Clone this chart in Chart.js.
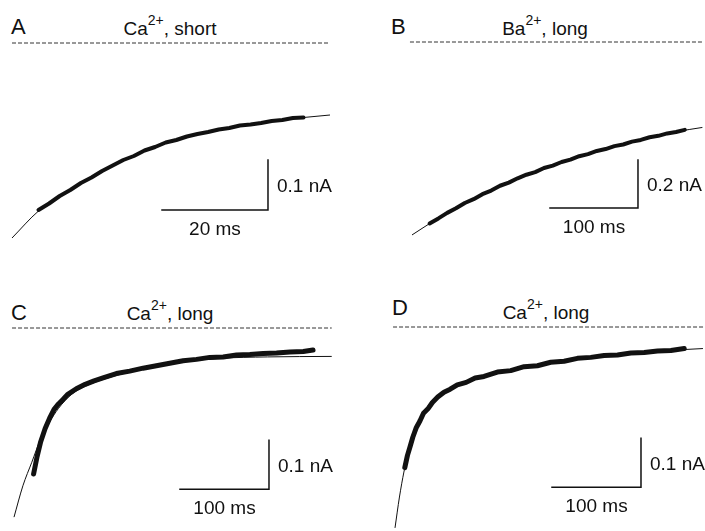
<!DOCTYPE html>
<html>
<head>
<meta charset="utf-8">
<script src="https://cdn.jsdelivr.net/npm/chart.js@4"></script>
<style>
    html, body { margin: 0; padding: 0; background: #fff; }
    #wrap { position: relative; width: 705px; height: 531px; overflow: hidden; font-family: "Liberation Sans", Arial, Helvetica, sans-serif; color: #111; }
    canvas { position: absolute; }
    .letter { position: absolute; font-size: 22px; line-height: 22px; }
    .title { position: absolute; width: 200px; text-align: center; font-size: 19px; line-height: 19px; white-space: nowrap; }
    .title sup { font-size: 14px; line-height: 0; position: relative; top: -3px; }
</style>
</head>
<body>
<div id="wrap">
    <div class="letter" style="left:11px; top:16px;">A</div>
    <div class="title" style="left:70px; top:19px;">Ca<sup>2+</sup>, short</div>
    <div class="letter" style="left:391px; top:16px;">B</div>
    <div class="title" style="left:445px; top:19px;">Ba<sup>2+</sup>, long</div>
    <div class="letter" style="left:11px; top:302px;">C</div>
    <div class="title" style="left:70px; top:304px;">Ca<sup>2+</sup>, long</div>
    <div class="letter" style="left:392px; top:297px;">D</div>
    <div class="title" style="left:446px; top:303px;">Ca<sup>2+</sup>, long</div>
</div>
<script>
// time in ms, current in nA (baseline = 0)

// A: Ca2+, short
const fitTimeA = [0, 5, 10, 15, 20, 25, 30, 35, 40, 45, 50, 55, 60];
const fitCurrentA = [-0.390, -0.336, -0.300, -0.268, -0.240, -0.216, -0.197, -0.183, -0.172, -0.163, -0.155, -0.149, -0.144];
const traceTimeA = [5, 7, 9, 11, 13, 15, 17, 19, 21, 23, 25, 27, 29, 31, 33, 35, 37, 39, 41, 43, 45, 47, 49, 51, 53, 55];
const traceCurrentA = [-0.334, -0.321, -0.306, -0.294, -0.280, -0.269, -0.256, -0.245, -0.234, -0.226, -0.215, -0.208, -0.199, -0.194,
    -0.187, -0.182, -0.178, -0.173, -0.170, -0.165, -0.163, -0.160, -0.156, -0.154, -0.150, -0.149];
const baseTimeA = [0, 60];

// B: Ba2+, long
const fitTimeB = [0, 25, 50, 75, 100, 125, 150, 175, 200, 225, 250, 275, 300, 330];
const fitCurrentB = [-0.804, -0.745, -0.692, -0.645, -0.601, -0.562, -0.527, -0.495, -0.466, -0.440, -0.416, -0.394, -0.374, -0.356];
const traceTimeB = [20, 30, 40, 50, 60, 70, 80, 90, 100, 110, 120, 130, 140, 150, 160, 170, 180, 190, 200, 210, 220, 230, 240, 250, 260, 270, 280, 290, 300, 310];
const traceCurrentB = [-0.756, -0.735, -0.712, -0.693, -0.671, -0.655, -0.634, -0.619, -0.599, -0.586, -0.568, -0.553, -0.542, -0.525,
    -0.515, -0.500, -0.490, -0.476, -0.467, -0.454, -0.446, -0.434, -0.427, -0.415, -0.408, -0.397, -0.391, -0.381, -0.375, -0.366];
const baseTimeB = [-2.3, 329.5];

// C: Ca2+, long
const fitTimeC = [0, 10, 20, 30, 40, 50, 65, 80, 100, 125, 150, 190, 230, 285, 357];
const fitCurrentC = [-0.386, -0.322, -0.274, -0.226, -0.192, -0.164, -0.135, -0.119, -0.105, -0.092, -0.081, -0.069, -0.062, -0.059, -0.058];
const traceTimeC = [22, 26, 30, 35, 40, 45, 50, 55, 60, 70, 80, 90, 100, 115, 130, 145, 160, 175, 190, 205, 220, 235, 250, 265, 280, 295, 310, 325, 336];
const traceCurrentC = [-0.298, -0.262, -0.232, -0.205, -0.184, -0.166, -0.155, -0.146, -0.136, -0.124, -0.115, -0.108, -0.102, -0.093,
    -0.088, -0.082, -0.077, -0.072, -0.067, -0.064, -0.060, -0.059, -0.055, -0.054, -0.052, -0.051, -0.049, -0.048, -0.045];
const baseTimeC = [-2.2, 357];

// D: Ca2+, long
const fitTimeD = [0, 5, 10, 15, 20, 30, 40, 50, 60, 75, 90, 110, 130, 165, 210, 250, 290, 325, 346];
const fitCurrentD = [-0.410, -0.347, -0.296, -0.257, -0.226, -0.180, -0.155, -0.138, -0.126, -0.114, -0.105, -0.095, -0.088, -0.076,
    -0.064, -0.056, -0.050, -0.046, -0.044];
const traceTimeD = [11, 14, 17, 20, 24, 28, 32, 37, 42, 48, 55, 62, 70, 80, 90, 100, 115, 130, 145, 160, 175, 190, 205, 220, 235, 250, 265, 280, 295, 310, 325];
const traceCurrentD = [-0.287, -0.262, -0.244, -0.225, -0.205, -0.192, -0.176, -0.167, -0.154, -0.143, -0.133, -0.127, -0.118, -0.113,
    -0.104, -0.101, -0.092, -0.089, -0.081, -0.079, -0.072, -0.070, -0.064, -0.062, -0.058, -0.057, -0.053, -0.052, -0.049, -0.048, -0.044];
const baseTimeD = [-2.2, 348];

// scale bars: [ms, nA]
const barSizeA = [20, 0.1];
const barSizeB = [100, 0.2];
const barSizeC = [100, 0.1];
const barSizeD = [100, 0.1];

const fontFam = '"Liberation Sans", Arial, Helvetica, sans-serif';
const ink = "#111";

const panels = [
    { box: [0, 0, 352, 265], origin: [12, 43], pxPer: [5.3, 500], fitT: fitTimeA, fitI: fitCurrentA, trT: traceTimeA, trI: traceCurrentA,
      base: baseTimeA, bar: barSizeA, corner: [48.3, -0.334], width: 4 },
    { box: [352, 0, 353, 265], origin: [412, 42], pxPer: [0.88, 240], fitT: fitTimeB, fitI: fitCurrentB, trT: traceTimeB, trI: traceCurrentB,
      base: baseTimeB, bar: barSizeB, corner: [256.8, -0.692], width: 4 },
    { box: [0, 265, 352, 266], origin: [14, 328], pxPer: [0.89, 490], fitT: fitTimeC, fitI: fitCurrentC, trT: traceTimeC, trI: traceCurrentC,
      base: baseTimeC, bar: barSizeC, corner: [286.5, -0.329], width: 5 },
    { box: [352, 265, 353, 266], origin: [395, 327], pxPer: [0.89, 490], fitT: fitTimeD, fitI: fitCurrentD, trT: traceTimeD, trI: traceCurrentD,
      base: baseTimeD, bar: barSizeD, corner: [276.4, -0.327], width: 5 }
];

function pts(xs, ys) {
    return xs.map((x, i) => ({ x: x, y: ys[i] }));
}

// draws "20 ms" / "0.1 nA" next to the scale bar
const barLabels = {
    id: "barLabels",
    afterDatasetsDraw(chart, args, opts) {
        const ctx = chart.ctx;
        const xs = chart.scales.x, ys = chart.scales.y;
        const cx = xs.getPixelForValue(opts.corner[0]);
        const cy = ys.getPixelForValue(opts.corner[1]);
        const left = xs.getPixelForValue(opts.corner[0] - opts.size[0]);
        const top = ys.getPixelForValue(opts.corner[1] + opts.size[1]);
        ctx.save();
        ctx.fillStyle = ink;
        ctx.font = "19px " + fontFam;
        ctx.textBaseline = "alphabetic";
        ctx.textAlign = "left";
        ctx.fillText(opts.size[1] + " nA", cx + 9, (cy + top) / 2 + 7);
        ctx.textAlign = "center";
        ctx.fillText(opts.size[0] + " ms", (cx + left) / 2, cy + 25);
        ctx.restore();
    }
};

const wrap = document.getElementById("wrap");

panels.forEach(p => {
    const cv = document.createElement("canvas");
    cv.width = p.box[2];
    cv.height = p.box[3];
    cv.style.left = p.box[0] + "px";
    cv.style.top = p.box[1] + "px";
    wrap.appendChild(cv);

    const xMin = (p.box[0] - p.origin[0]) / p.pxPer[0];
    const xMax = (p.box[0] + p.box[2] - p.origin[0]) / p.pxPer[0];
    const yMax = (p.origin[1] - p.box[1]) / p.pxPer[1];
    const yMin = (p.origin[1] - p.box[1] - p.box[3]) / p.pxPer[1];

    const c = p.corner;
    new Chart(cv, {
        type: "line",
        data: {
            datasets: [
                {
                    data: pts(p.base, [0, 0]),
                    borderColor: "#333",
                    borderWidth: 1,
                    borderDash: [4, 2],
                    order: 4
                },
                {
                    data: pts(p.trT, p.trI),
                    borderColor: ink,
                    borderWidth: p.width,
                    borderCapStyle: "round",
                    borderJoinStyle: "round",
                    tension: 0,
                    order: 3
                },
                {
                    data: pts(p.fitT, p.fitI),
                    borderColor: ink,
                    borderWidth: 1,
                    cubicInterpolationMode: "monotone",
                    order: 2
                },
                {
                    data: pts([c[0] - p.bar[0], c[0], c[0]], [c[1], c[1], c[1] + p.bar[1]]),
                    borderColor: ink,
                    borderWidth: 1.5,
                    borderCapStyle: "square",
                    tension: 0,
                    order: 1
                }
            ]
        },
        options: {
            responsive: false,
            animation: false,
            devicePixelRatio: 1,
            layout: { padding: 0 },
            elements: { point: { radius: 0, hoverRadius: 0 } },
            plugins: {
                legend: { display: false },
                tooltip: { enabled: false },
                barLabels: { corner: p.corner, size: p.bar }
            },
            scales: {
                x: { type: "linear", display: false, min: xMin, max: xMax },
                y: { type: "linear", display: false, min: yMin, max: yMax }
            }
        },
        plugins: [barLabels]
    });
});
</script>
</body>
</html>
